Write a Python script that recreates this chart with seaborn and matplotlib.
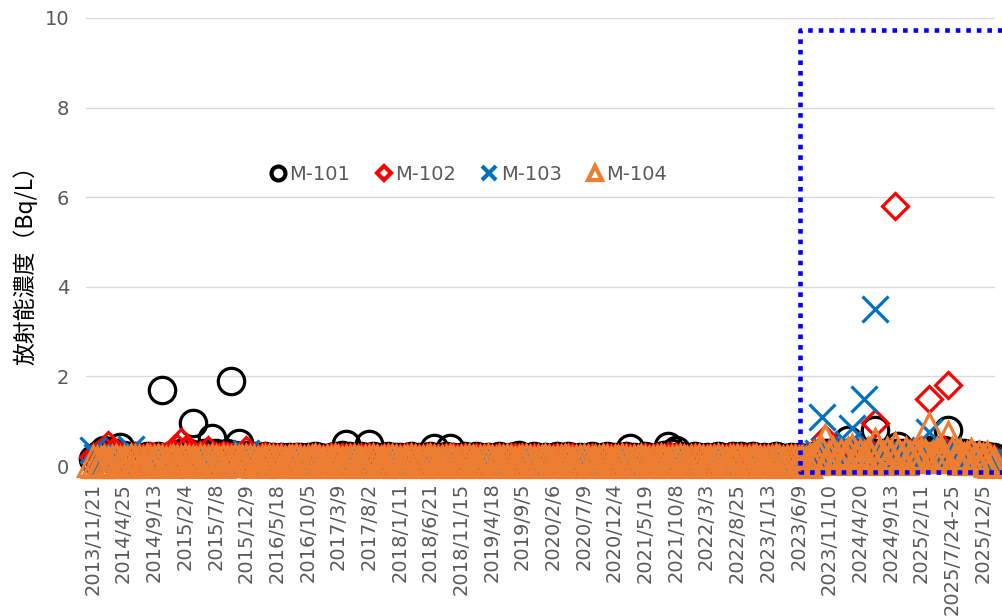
import pandas as pd
import matplotlib
matplotlib.use("Agg")
import matplotlib.pyplot as plt
import seaborn as sns
from matplotlib.lines import Line2D

# tick labels (one every 8 sampling dates)
tick_labels = ["2013/11/21", "2014/4/25", "2014/9/13", "2015/2/4", "2015/7/8",
               "2015/12/9", "2016/5/18", "2016/10/5", "2017/3/9", "2017/8/2",
               "2018/1/11", "2018/6/21", "2018/11/15", "2019/4/18", "2019/9/5",
               "2020/2/6", "2020/7/9", "2020/12/4", "2021/5/19", "2021/10/8",
               "2022/3/3", "2022/8/25", "2023/1/13", "2023/6/9", "2023/11/10",
               "2024/4/20", "2024/9/13", "2025/2/11", "2025/7/24-25", "2025/12/5"]
step = 8

# Bq/L, one row per label interval
m101 = [0.15, 0.22, 0.28, 0.35, 0.25, 0.20, 0.30, 0.42,
        0.25, 0.20, 0.18, 0.22, 0.20, 0.18, 0.22, 0.20,
        0.18, 0.22, 1.70, 0.20, 0.18, 0.22, 0.25, 0.30,
        0.22, 0.28, 0.95, 0.25, 0.22, 0.30, 0.25, 0.62,
        0.28, 0.25, 0.22, 0.30, 1.90, 0.25, 0.52, 0.22,
        0.25, 0.20, 0.22, 0.18, 0.20, 0.22, 0.18, 0.20,
        0.18, 0.20, 0.17, 0.20, 0.18, 0.20, 0.19, 0.18,
        0.20, 0.18, 0.22, 0.20, 0.18, 0.17, 0.20, 0.22,
        0.20, 0.25, 0.50, 0.22, 0.20, 0.18, 0.22, 0.20,
        0.50, 0.22, 0.20, 0.18, 0.20, 0.22, 0.18, 0.20,
        0.20, 0.18, 0.20, 0.22, 0.18, 0.20, 0.18, 0.20,
        0.22, 0.40, 0.20, 0.18, 0.22, 0.40, 0.20, 0.18,
        0.20, 0.22, 0.18, 0.20, 0.22, 0.20, 0.18, 0.20,
        0.18, 0.20, 0.22, 0.20, 0.18, 0.20, 0.22, 0.25,
        0.20, 0.18, 0.20, 0.22, 0.20, 0.18, 0.20, 0.18,
        0.20, 0.22, 0.18, 0.20, 0.22, 0.20, 0.18, 0.20,
        0.18, 0.20, 0.22, 0.20, 0.18, 0.20, 0.22, 0.20,
        0.20, 0.18, 0.20, 0.22, 0.40, 0.20, 0.18, 0.20,
        0.22, 0.20, 0.18, 0.20, 0.22, 0.25, 0.45, 0.28,
        0.35, 0.22, 0.20, 0.18, 0.20, 0.22, 0.20, 0.18,
        0.20, 0.18, 0.20, 0.22, 0.20, 0.18, 0.20, 0.22,
        0.20, 0.22, 0.18, 0.20, 0.22, 0.20, 0.18, 0.20,
        0.18, 0.20, 0.22, 0.20, 0.18, 0.17, 0.20, 0.18,
        0.20, 0.18, 0.15, 0.20, 0.22, 0.25, 0.20, 0.28,
        0.30, 0.25, 0.22, 0.28, 0.30, 0.58, 0.25, 0.30,
        0.28, 0.30, 0.25, 0.32, 0.80, 0.30, 0.28, 0.25,
        0.30, 0.28, 0.45, 0.30, 0.25, 0.22, 0.28, 0.30,
        0.25, 0.30, 0.35, 0.28, 0.25, 0.30, 0.35, 0.80,
        0.30, 0.25, 0.22, 0.28, 0.25, 0.20, 0.22, 0.25,
        0.20, 0.22, 0.18, 0.20]

m102 = [0.20, 0.25, 0.30, 0.35, 0.47, 0.30, 0.25, 0.22,
        0.20, 0.18, 0.20, 0.22, 0.20, 0.18, 0.20, 0.22,
        0.20, 0.18, 0.20, 0.22, 0.25, 0.30, 0.40, 0.53,
        0.35, 0.25, 0.22, 0.20, 0.25, 0.22, 0.35, 0.20,
        0.22, 0.20, 0.25, 0.22, 0.20, 0.25, 0.22, 0.20,
        0.35, 0.22, 0.20, 0.18, 0.20, 0.22, 0.18, 0.20,
        0.17, 0.19, 0.16, 0.18, 0.17, 0.19, 0.18, 0.16,
        0.18, 0.17, 0.20, 0.18, 0.16, 0.17, 0.19, 0.20,
        0.18, 0.20, 0.17, 0.19, 0.18, 0.16, 0.20, 0.18,
        0.19, 0.20, 0.18, 0.16, 0.18, 0.20, 0.17, 0.18,
        0.18, 0.16, 0.19, 0.20, 0.17, 0.18, 0.16, 0.19,
        0.20, 0.18, 0.17, 0.16, 0.19, 0.18, 0.20, 0.17,
        0.18, 0.20, 0.16, 0.18, 0.19, 0.18, 0.17, 0.19,
        0.16, 0.18, 0.20, 0.18, 0.16, 0.19, 0.20, 0.18,
        0.19, 0.17, 0.18, 0.20, 0.18, 0.16, 0.18, 0.17,
        0.18, 0.20, 0.17, 0.18, 0.20, 0.19, 0.16, 0.18,
        0.17, 0.18, 0.20, 0.18, 0.16, 0.18, 0.19, 0.18,
        0.18, 0.16, 0.19, 0.20, 0.18, 0.17, 0.16, 0.18,
        0.20, 0.18, 0.17, 0.19, 0.20, 0.18, 0.22, 0.20,
        0.19, 0.20, 0.18, 0.16, 0.18, 0.20, 0.18, 0.16,
        0.18, 0.17, 0.18, 0.20, 0.18, 0.17, 0.19, 0.20,
        0.18, 0.20, 0.17, 0.18, 0.20, 0.18, 0.16, 0.18,
        0.17, 0.18, 0.20, 0.18, 0.16, 0.15, 0.18, 0.17,
        0.18, 0.20, 0.15, 0.20, 0.18, 0.25, 0.30, 0.60,
        0.30, 0.25, 0.20, 0.28, 0.25, 0.30, 0.22, 0.25,
        0.30, 0.25, 0.28, 0.30, 0.95, 0.30, 0.25, 0.28,
        0.30, 5.80, 0.30, 0.25, 0.22, 0.28, 0.25, 0.30,
        0.35, 0.30, 1.50, 0.30, 0.25, 0.30, 0.35, 1.80,
        0.30, 0.25, 0.22, 0.20, 0.25, 0.22, 0.20, 0.18,
        0.20, 0.18, 0.20, 0.15]

m103 = [0.35, 0.20, 0.15, 0.12, 0.10, 0.15, 0.20, 0.12,
        0.10, 0.12, 0.38, 0.12, 0.10, 0.12, 0.10, 0.12,
        0.11, 0.10, 0.12, 0.13, 0.10, 0.12, 0.14, 0.12,
        0.12, 0.10, 0.13, 0.12, 0.10, 0.11, 0.12, 0.13,
        0.10, 0.12, 0.11, 0.10, 0.12, 0.13, 0.10, 0.12,
        0.30, 0.12, 0.10, 0.11, 0.12, 0.10, 0.13, 0.11,
        0.10, 0.12, 0.11, 0.10, 0.12, 0.10, 0.11, 0.12,
        0.10, 0.11, 0.12, 0.10, 0.12, 0.11, 0.10, 0.12,
        0.11, 0.12, 0.10, 0.12, 0.11, 0.10, 0.12, 0.11,
        0.12, 0.10, 0.11, 0.12, 0.10, 0.12, 0.11, 0.10,
        0.10, 0.12, 0.11, 0.10, 0.12, 0.11, 0.10, 0.12,
        0.11, 0.10, 0.12, 0.11, 0.10, 0.12, 0.11, 0.10,
        0.12, 0.11, 0.10, 0.12, 0.11, 0.10, 0.12, 0.11,
        0.10, 0.12, 0.11, 0.10, 0.12, 0.11, 0.10, 0.12,
        0.11, 0.10, 0.12, 0.11, 0.10, 0.12, 0.11, 0.10,
        0.12, 0.11, 0.10, 0.12, 0.11, 0.10, 0.12, 0.11,
        0.10, 0.12, 0.11, 0.10, 0.12, 0.11, 0.10, 0.12,
        0.11, 0.10, 0.12, 0.11, 0.10, 0.12, 0.11, 0.10,
        0.12, 0.11, 0.10, 0.12, 0.11, 0.10, 0.12, 0.11,
        0.10, 0.12, 0.11, 0.10, 0.12, 0.11, 0.10, 0.12,
        0.11, 0.10, 0.12, 0.11, 0.10, 0.12, 0.11, 0.10,
        0.12, 0.11, 0.10, 0.12, 0.11, 0.10, 0.12, 0.11,
        0.10, 0.12, 0.11, 0.10, 0.12, 0.11, 0.10, 0.12,
        0.10, 0.12, 0.10, 0.15, 0.20, 0.30, 1.10, 0.35,
        0.30, 0.25, 0.20, 0.30, 0.35, 0.50, 0.85, 0.30,
        0.35, 1.50, 0.30, 0.25, 3.50, 0.30, 0.25, 0.20,
        0.25, 0.30, 0.22, 0.20, 0.25, 0.20, 0.22, 0.25,
        0.30, 0.35, 0.75, 0.30, 0.25, 0.20, 0.30, 0.35,
        0.25, 0.20, 0.15, 0.20, 0.18, 0.15, 0.12, 0.15,
        0.12, 0.10, 0.12, 0.10]

m104 = [0.12, 0.10, 0.08, 0.12, 0.10, 0.12, 0.14, 0.10,
        0.12, 0.10, 0.13, 0.11, 0.12, 0.10, 0.13, 0.12,
        0.11, 0.13, 0.12, 0.10, 0.12, 0.13, 0.11, 0.12,
        0.13, 0.11, 0.12, 0.10, 0.13, 0.12, 0.11, 0.13,
        0.12, 0.10, 0.13, 0.11, 0.12, 0.13, 0.11, 0.12,
        0.13, 0.11, 0.12, 0.10, 0.12, 0.11, 0.13, 0.12,
        0.11, 0.12, 0.10, 0.12, 0.11, 0.13, 0.12, 0.10,
        0.12, 0.11, 0.13, 0.12, 0.10, 0.12, 0.11, 0.13,
        0.12, 0.10, 0.12, 0.11, 0.13, 0.12, 0.10, 0.12,
        0.11, 0.13, 0.12, 0.10, 0.12, 0.11, 0.13, 0.12,
        0.10, 0.12, 0.11, 0.13, 0.12, 0.10, 0.12, 0.11,
        0.13, 0.12, 0.10, 0.12, 0.11, 0.13, 0.12, 0.10,
        0.12, 0.11, 0.13, 0.12, 0.10, 0.12, 0.11, 0.13,
        0.12, 0.10, 0.12, 0.11, 0.13, 0.12, 0.10, 0.12,
        0.11, 0.13, 0.12, 0.10, 0.12, 0.11, 0.13, 0.12,
        0.10, 0.12, 0.11, 0.13, 0.12, 0.10, 0.12, 0.11,
        0.13, 0.12, 0.10, 0.12, 0.11, 0.13, 0.12, 0.10,
        0.12, 0.11, 0.13, 0.12, 0.10, 0.12, 0.11, 0.13,
        0.12, 0.10, 0.12, 0.11, 0.13, 0.12, 0.10, 0.12,
        0.11, 0.13, 0.12, 0.10, 0.12, 0.11, 0.13, 0.12,
        0.10, 0.12, 0.11, 0.13, 0.12, 0.10, 0.12, 0.11,
        0.13, 0.12, 0.10, 0.12, 0.11, 0.13, 0.12, 0.10,
        0.12, 0.11, 0.13, 0.12, 0.10, 0.12, 0.11, 0.12,
        0.10, 0.12, 0.08, 0.15, 0.20, 0.25, 0.30, 0.58,
        0.20, 0.30, 0.15, 0.25, 0.20, 0.30, 0.35, 0.20,
        0.25, 0.20, 0.30, 0.15, 0.50, 0.25, 0.20, 0.30,
        0.20, 0.40, 0.25, 0.15, 0.30, 0.20, 0.25, 0.20,
        0.30, 0.25, 0.85, 0.20, 0.30, 0.25, 0.20, 0.65,
        0.30, 0.20, 0.25, 0.15, 0.20, 0.27, 0.15, 0.20,
        0.15, 0.20, 0.12, 0.10]

series = {"M-101": m101, "M-102": m102, "M-103": m103, "M-104": m104}
colors = {"M-101": "#000000", "M-102": "#FF0000", "M-103": "#0070C0", "M-104": "#ED7D31"}
markers = {"M-101": "o", "M-102": "D", "M-103": "x", "M-104": "^"}
msizes = {"M-101": 19, "M-102": 13, "M-103": 19, "M-104": 21}
legend_sizes = {"M-101": 10, "M-102": 7.5, "M-103": 10, "M-104": 10}

rows = []
for name, vals in series.items():
    for i, v in enumerate(vals):
        rows.append({"idx": i, "value": v, "site": name})
df = pd.DataFrame(rows)

sns.set_style("white")
plt.rcParams["font.family"] = ["DejaVu Sans", "Noto Sans CJK JP"]

fig = plt.figure(figsize=(10.02, 6.16), dpi=100)
ax = fig.add_axes([86 / 1002, 1 - 466 / 616, 909 / 1002, 448 / 616])

for name in series:
    sub = df[df["site"] == name]
    sns.lineplot(data=sub, x="idx", y="value", ax=ax, sort=False,
                 linestyle="none", marker=markers[name], markersize=msizes[name],
                 markerfacecolor="none", markeredgecolor=colors[name],
                 markeredgewidth=2.3, color=colors[name], clip_on=False,
                 errorbar=None, legend=False, zorder=3)

ax.set_xlim(-1.8, 235.2)
ax.set_ylim(0, 10)
ax.set_yticks(range(0, 11, 2))
ax.set_xticks(range(0, step * len(tick_labels), step))
ax.set_xticklabels(tick_labels, rotation=90)
ax.tick_params(axis="x", length=0, pad=12, labelsize=14, labelcolor="#595959")
ax.tick_params(axis="y", length=0, pad=12, labelsize=14, labelcolor="#595959")
ax.yaxis.grid(True, color="#d9d9d9", linewidth=1.0)
ax.xaxis.grid(False)
for s in ax.spines.values():
    s.set_visible(False)
ax.set_xlabel("")
ax.set_ylabel("放射能濃度（Bq/L）", fontsize=16.5, family=["Noto Sans CJK JP"],
              color="#000000", rotation=90, va="center", ha="center",
              rotation_mode="default")
ax.yaxis.set_label_coords(-0.067, 0.46)

# highlighted recent period (blue dotted box)
box_start = tick_labels.index("2023/6/9") * step + 0.3
box_x = [237.0, box_start, box_start, 237.0]
box_y = [9.73, 9.73, -0.13, -0.13]
ax.plot(box_x, box_y, color="#0000FF", linewidth=3.3, linestyle=(0, (1, 1.3)),
        dash_capstyle="butt", clip_on=False, zorder=5)

handles = [Line2D([], [], linestyle="none", marker=markers[k], markersize=legend_sizes[k],
                  markerfacecolor="none", markeredgecolor=colors[k], markeredgewidth=3)
           for k in series]
ax.legend(handles, list(series.keys()), loc="center", bbox_to_anchor=(0.421, 0.65),
          ncol=4, frameon=False, fontsize=14, handlelength=0.8, handletextpad=0.2,
          columnspacing=1.3, labelcolor="#595959")

fig.savefig("out.png", dpi=100)
